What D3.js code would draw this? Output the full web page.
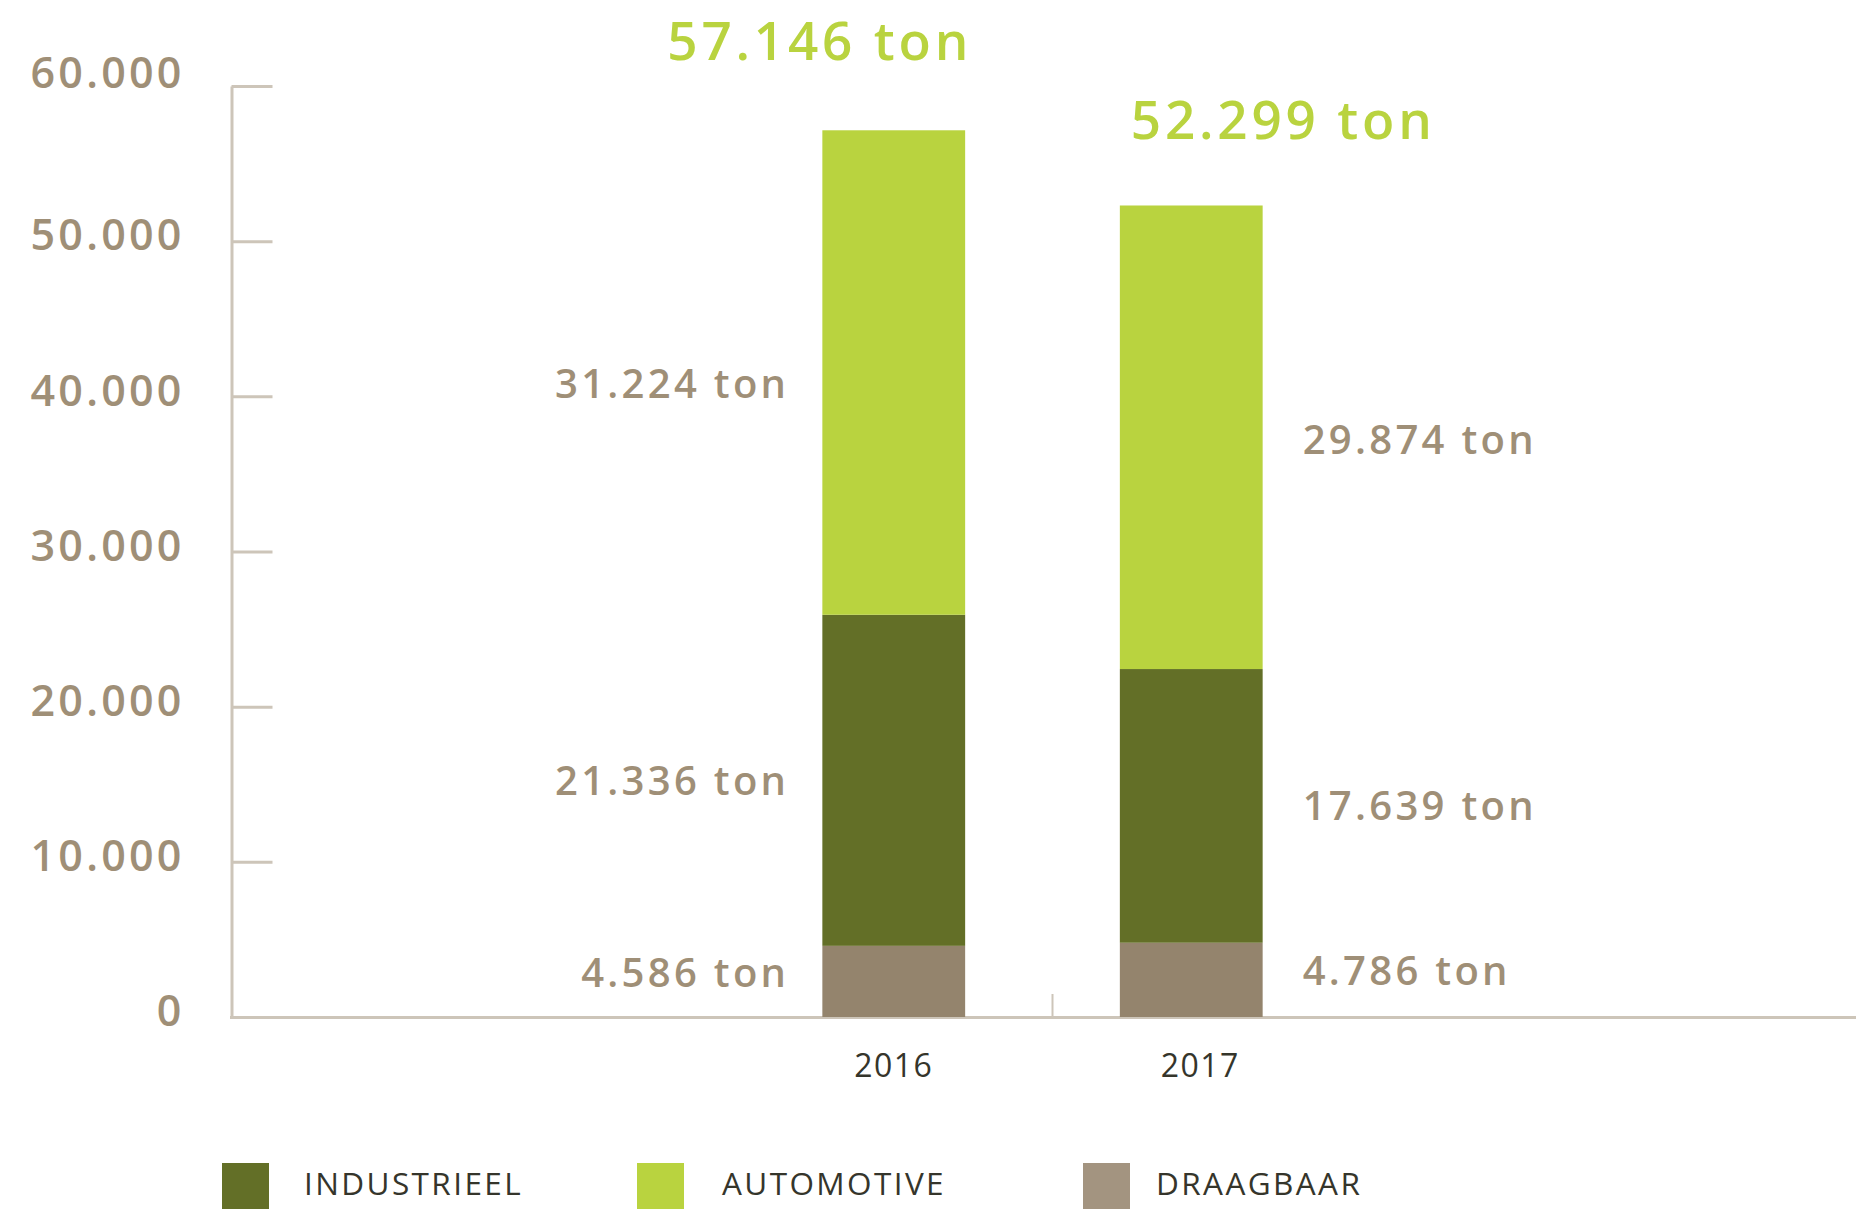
<!DOCTYPE html>
<html>
<head>
<meta charset="utf-8">
<script src="https://cdn.jsdelivr.net/npm/d3@7/dist/d3.min.js"></script>
<style>
  html, body { margin: 0; padding: 0; background: #ffffff; }
  svg { display: block; }
  text { font-family: "Open Sans", sans-serif; }
</style>
</head>
<body>
<svg id="chart" width="1856" height="1209"></svg>
<script>
// ---- data ----
const years = ["2016", "2017"];
const seriesNames = ["DRAAGBAAR", "INDUSTRIEEL", "AUTOMOTIVE"];
const draagbaar = [4586, 4786];
const industrieel = [21336, 17639];
const automotive = [31224, 29874];
const totals = [57146, 52299];
const yTicks = [0, 10000, 20000, 30000, 40000, 50000, 60000];
const legendNames = ["INDUSTRIEEL", "AUTOMOTIVE", "DRAAGBAAR"];

// ---- styles ----
const colors = { DRAAGBAAR: "#94846d", INDUSTRIEEL: "#636f27", AUTOMOTIVE: "#b9d33f" };
const legendColors = { DRAAGBAAR: "#a39480", INDUSTRIEEL: "#636f27", AUTOMOTIVE: "#b9d33f" };
const axisColor = "#cdc5b9";
const labelColor = "#9f8f77";
const darkText = "#35352b";

const fmt = v => d3.format(",")(v).replace(/,/g, ".");

const svg = d3.select("#chart");

const rows = years.map((y, i) => ({
  year: y,
  DRAAGBAAR: draagbaar[i],
  INDUSTRIEEL: industrieel[i],
  AUTOMOTIVE: automotive[i],
  total: totals[i]
}));

const y = d3.scaleLinear().domain([0, 60000]).range([1017, 86]);
const x = d3.scaleBand().domain(years).range([745, 1340]).paddingInner(0.52).paddingOuter(0.26);

const stack = d3.stack().keys(seriesNames);
const stacked = stack(rows);

// baseline (x axis line)
svg.append("line")
  .attr("x1", 230).attr("x2", 1856)
  .attr("y1", y(0) + 0.5).attr("y2", y(0) + 0.5)
  .attr("stroke", axisColor).attr("stroke-width", 3);

// small separator tick between categories
const midX = (x("2016") + x.bandwidth() + x("2017")) / 2 + 10;
svg.append("line")
  .attr("x1", midX).attr("x2", midX)
  .attr("y1", y(0) - 23).attr("y2", y(0))
  .attr("stroke", axisColor).attr("stroke-width", 2);

// y axis
const yAxis = d3.axisLeft(y).tickValues(yTicks).tickSizeInner(-41).tickSizeOuter(0).tickPadding(47)
  .tickFormat(fmt);
const gy = svg.append("g").attr("transform", "translate(231.5,0)").call(yAxis);
gy.select(".domain").attr("stroke", axisColor).attr("stroke-width", 3);
gy.selectAll(".tick line").attr("stroke", axisColor).attr("stroke-width", 3)
  .attr("opacity", d => d === 0 ? 0 : 1);
gy.selectAll(".tick text")
  .attr("fill", labelColor)
  .attr("font-size", 43)
  .attr("font-weight", 600)
  .attr("letter-spacing", 3.2)
  .attr("font-family", "'Open Sans', sans-serif")
  .attr("dy", "0.32em")
  .attr("y", d => d === 60000 ? -12 : -5);

// bars
svg.append("g").selectAll("g")
  .data(stacked)
  .join("g")
  .attr("fill", d => colors[d.key])
  .selectAll("rect")
  .data(d => d)
  .join("rect")
  .attr("x", d => x(d.data.year))
  .attr("width", x.bandwidth())
  .attr("y", d => y(d[1]))
  .attr("height", d => y(d[0]) - y(d[1]));

// segment value labels
const labelShift = { DRAAGBAAR: [-9, -9], INDUSTRIEEL: [0, 0], AUTOMOTIVE: [11, 2] };
stacked.forEach(layer => {
  layer.forEach((d, i) => {
    const left = i === 0;
    const cx = left ? x(d.data.year) - 33 : x(d.data.year) + x.bandwidth() + 40;
    svg.append("text")
      .attr("x", cx)
      .attr("y", (y(d[0]) + y(d[1])) / 2 + labelShift[layer.key][i])
      .attr("dy", "0.36em")
      .attr("text-anchor", left ? "end" : "start")
      .attr("fill", labelColor)
      .attr("font-size", 40)
      .attr("font-weight", 600)
      .attr("letter-spacing", 3.3)
      .text(fmt(d.data[layer.key]) + " ton");
  });
});

// totals
const totalShift = [-74, 92];
const totalRise = [70, 66];
rows.forEach((r, i) => {
  svg.append("text")
    .attr("x", x(r.year) + x.bandwidth() / 2 + totalShift[i])
    .attr("y", y(r.total) - totalRise[i])
    .attr("text-anchor", "middle")
    .attr("fill", colors.AUTOMOTIVE)
    .attr("font-size", 53)
    .attr("font-weight", 600)
    .attr("letter-spacing", 3.8)
    .text(fmt(r.total) + " ton");
});

// x labels
const yearShift = [0, 9];
svg.append("g").selectAll("text")
  .data(years)
  .join("text")
  .attr("x", (d, i) => x(d) + x.bandwidth() / 2 + yearShift[i])
  .attr("y", 1077)
  .attr("text-anchor", "middle")
  .attr("fill", darkText)
  .attr("font-size", 32)
  .attr("letter-spacing", 1.5)
  .text(d => d);

// legend
const legendX = [222, 637, 1083];
const legendTextGap = [82, 85, 73];
const lg = svg.append("g").selectAll("g")
  .data(legendNames)
  .join("g")
  .attr("transform", (d, i) => `translate(${legendX[i]},1163)`);
lg.append("rect").attr("width", 47).attr("height", 50).attr("fill", d => legendColors[d]);
lg.append("text")
  .attr("x", (d, i) => legendTextGap[i])
  .attr("y", 32)
  .attr("fill", darkText)
  .attr("font-size", 31.5)
  .attr("letter-spacing", 2.4)
  .text(d => d);
</script>
</body>
</html>
